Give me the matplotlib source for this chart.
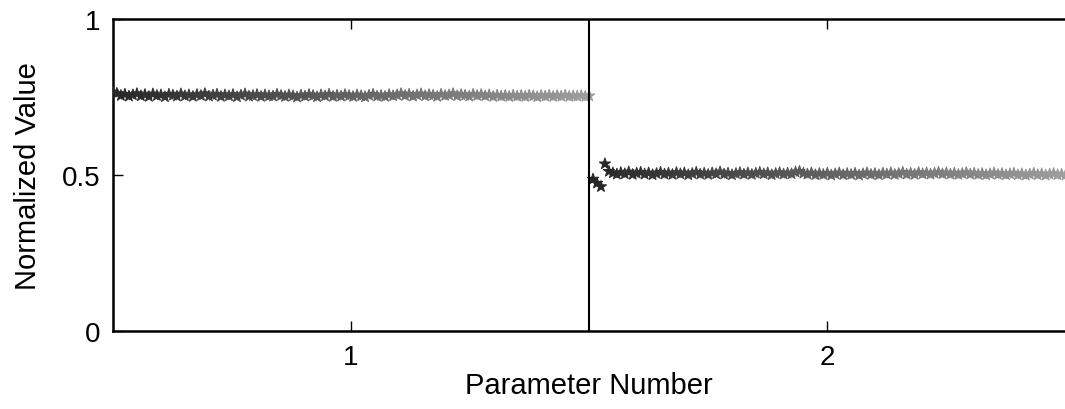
import numpy as np
import matplotlib
matplotlib.use('Agg')
import matplotlib.pyplot as plt

plt.rcParams['font.family'] = ['Liberation Sans', 'DejaVu Sans']

# parameter 1 : normalized values (120 samples)
param1 = [0.766, 0.762, 0.755, 0.759, 0.753, 0.757, 0.761, 0.754, 0.758, 0.752,
          0.760, 0.755, 0.757, 0.751, 0.759, 0.756, 0.753, 0.760, 0.754, 0.757,
          0.752, 0.758, 0.755, 0.761, 0.753, 0.756, 0.759, 0.752, 0.757, 0.754,
          0.758, 0.751, 0.756, 0.760, 0.753, 0.755, 0.758, 0.752, 0.757, 0.754,
          0.753, 0.759, 0.755, 0.752, 0.757, 0.754, 0.750, 0.756, 0.753, 0.758,
          0.755, 0.751, 0.757, 0.754, 0.759, 0.752, 0.756, 0.753, 0.758, 0.755,
          0.752, 0.757, 0.754, 0.751, 0.756, 0.759, 0.753, 0.755, 0.752, 0.758,
          0.754, 0.757, 0.761, 0.755, 0.759, 0.753, 0.757, 0.760, 0.754, 0.758,
          0.756, 0.752, 0.759, 0.755, 0.757, 0.761, 0.754, 0.758, 0.756, 0.753,
          0.759, 0.755, 0.758, 0.754, 0.757, 0.752, 0.756, 0.753, 0.755, 0.752,
          0.756, 0.753, 0.755, 0.752, 0.756, 0.754, 0.751, 0.755, 0.753, 0.756,
          0.752, 0.755, 0.753, 0.756, 0.752, 0.754, 0.753, 0.755, 0.752, 0.754]

# parameter 2 : normalized values (120 samples)
param2 = [0.487, 0.474, 0.463, 0.536, 0.512, 0.507, 0.503, 0.508, 0.504, 0.510,
          0.502, 0.506, 0.509, 0.503, 0.507, 0.501, 0.505, 0.509, 0.503, 0.506,
          0.502, 0.508, 0.504, 0.507, 0.501, 0.505, 0.509, 0.503, 0.506, 0.502,
          0.507, 0.504, 0.510, 0.503, 0.506, 0.501, 0.505, 0.508, 0.503, 0.507,
          0.502, 0.506, 0.509, 0.504, 0.507, 0.501, 0.505, 0.508, 0.503, 0.506,
          0.504, 0.510, 0.512, 0.506, 0.503, 0.507, 0.501, 0.505, 0.502, 0.506,
          0.500, 0.504, 0.507, 0.501, 0.505, 0.502, 0.506, 0.500, 0.504, 0.507,
          0.502, 0.505, 0.501, 0.506, 0.503, 0.507, 0.502, 0.505, 0.509, 0.503,
          0.506, 0.502, 0.508, 0.504, 0.507, 0.503, 0.506, 0.509, 0.504, 0.507,
          0.503, 0.506, 0.502, 0.505, 0.508, 0.503, 0.506, 0.502, 0.505, 0.501,
          0.504, 0.507, 0.502, 0.505, 0.501, 0.504, 0.506, 0.501, 0.504, 0.500,
          0.503, 0.506, 0.501, 0.504, 0.500, 0.503, 0.505, 0.501, 0.503, 0.500]

x_ticks = [1, 2]
y_ticks = [0, 0.5, 1]
y_ticklabels = ['0', '0.5', '1']

fig = plt.figure(figsize=(10.65, 4.10), dpi=100)
ax = fig.add_axes([0.106, 0.19, 0.8945, 0.761])

seg_start = [0.5, 1.508]
seg_end = [1.5, 2.5]
for k, vals in enumerate([param1, param2]):
    n = len(vals)
    xs = np.linspace(seg_start[k], seg_end[k], n)
    shade = np.linspace(0.15, 0.62, n)
    ax.scatter(xs, vals, c=shade, cmap='gray', vmin=0, vmax=1,
               marker='*', s=70, linewidths=0.8, zorder=3)

ax.axvline(1.5, color='black', lw=1.5, zorder=4)

ax.set_xlim(0.5, 2.5)
ax.set_ylim(0, 1)
ax.set_xticks(x_ticks)
ax.set_xticklabels([str(t) for t in x_ticks])
ax.set_yticks(y_ticks)
ax.set_yticklabels(y_ticklabels)
ax.tick_params(direction='in', length=7, width=1, top=True, right=False,
               labelsize=20, pad=9)
for s in ax.spines.values():
    s.set_linewidth(1.8)
ax.spines['right'].set_visible(False)

ax.set_xlabel('Parameter Number', fontsize=21, labelpad=1)
ax.set_ylabel('Normalized Value', fontsize=21, labelpad=14)

fig.savefig('out.png', dpi=100)
